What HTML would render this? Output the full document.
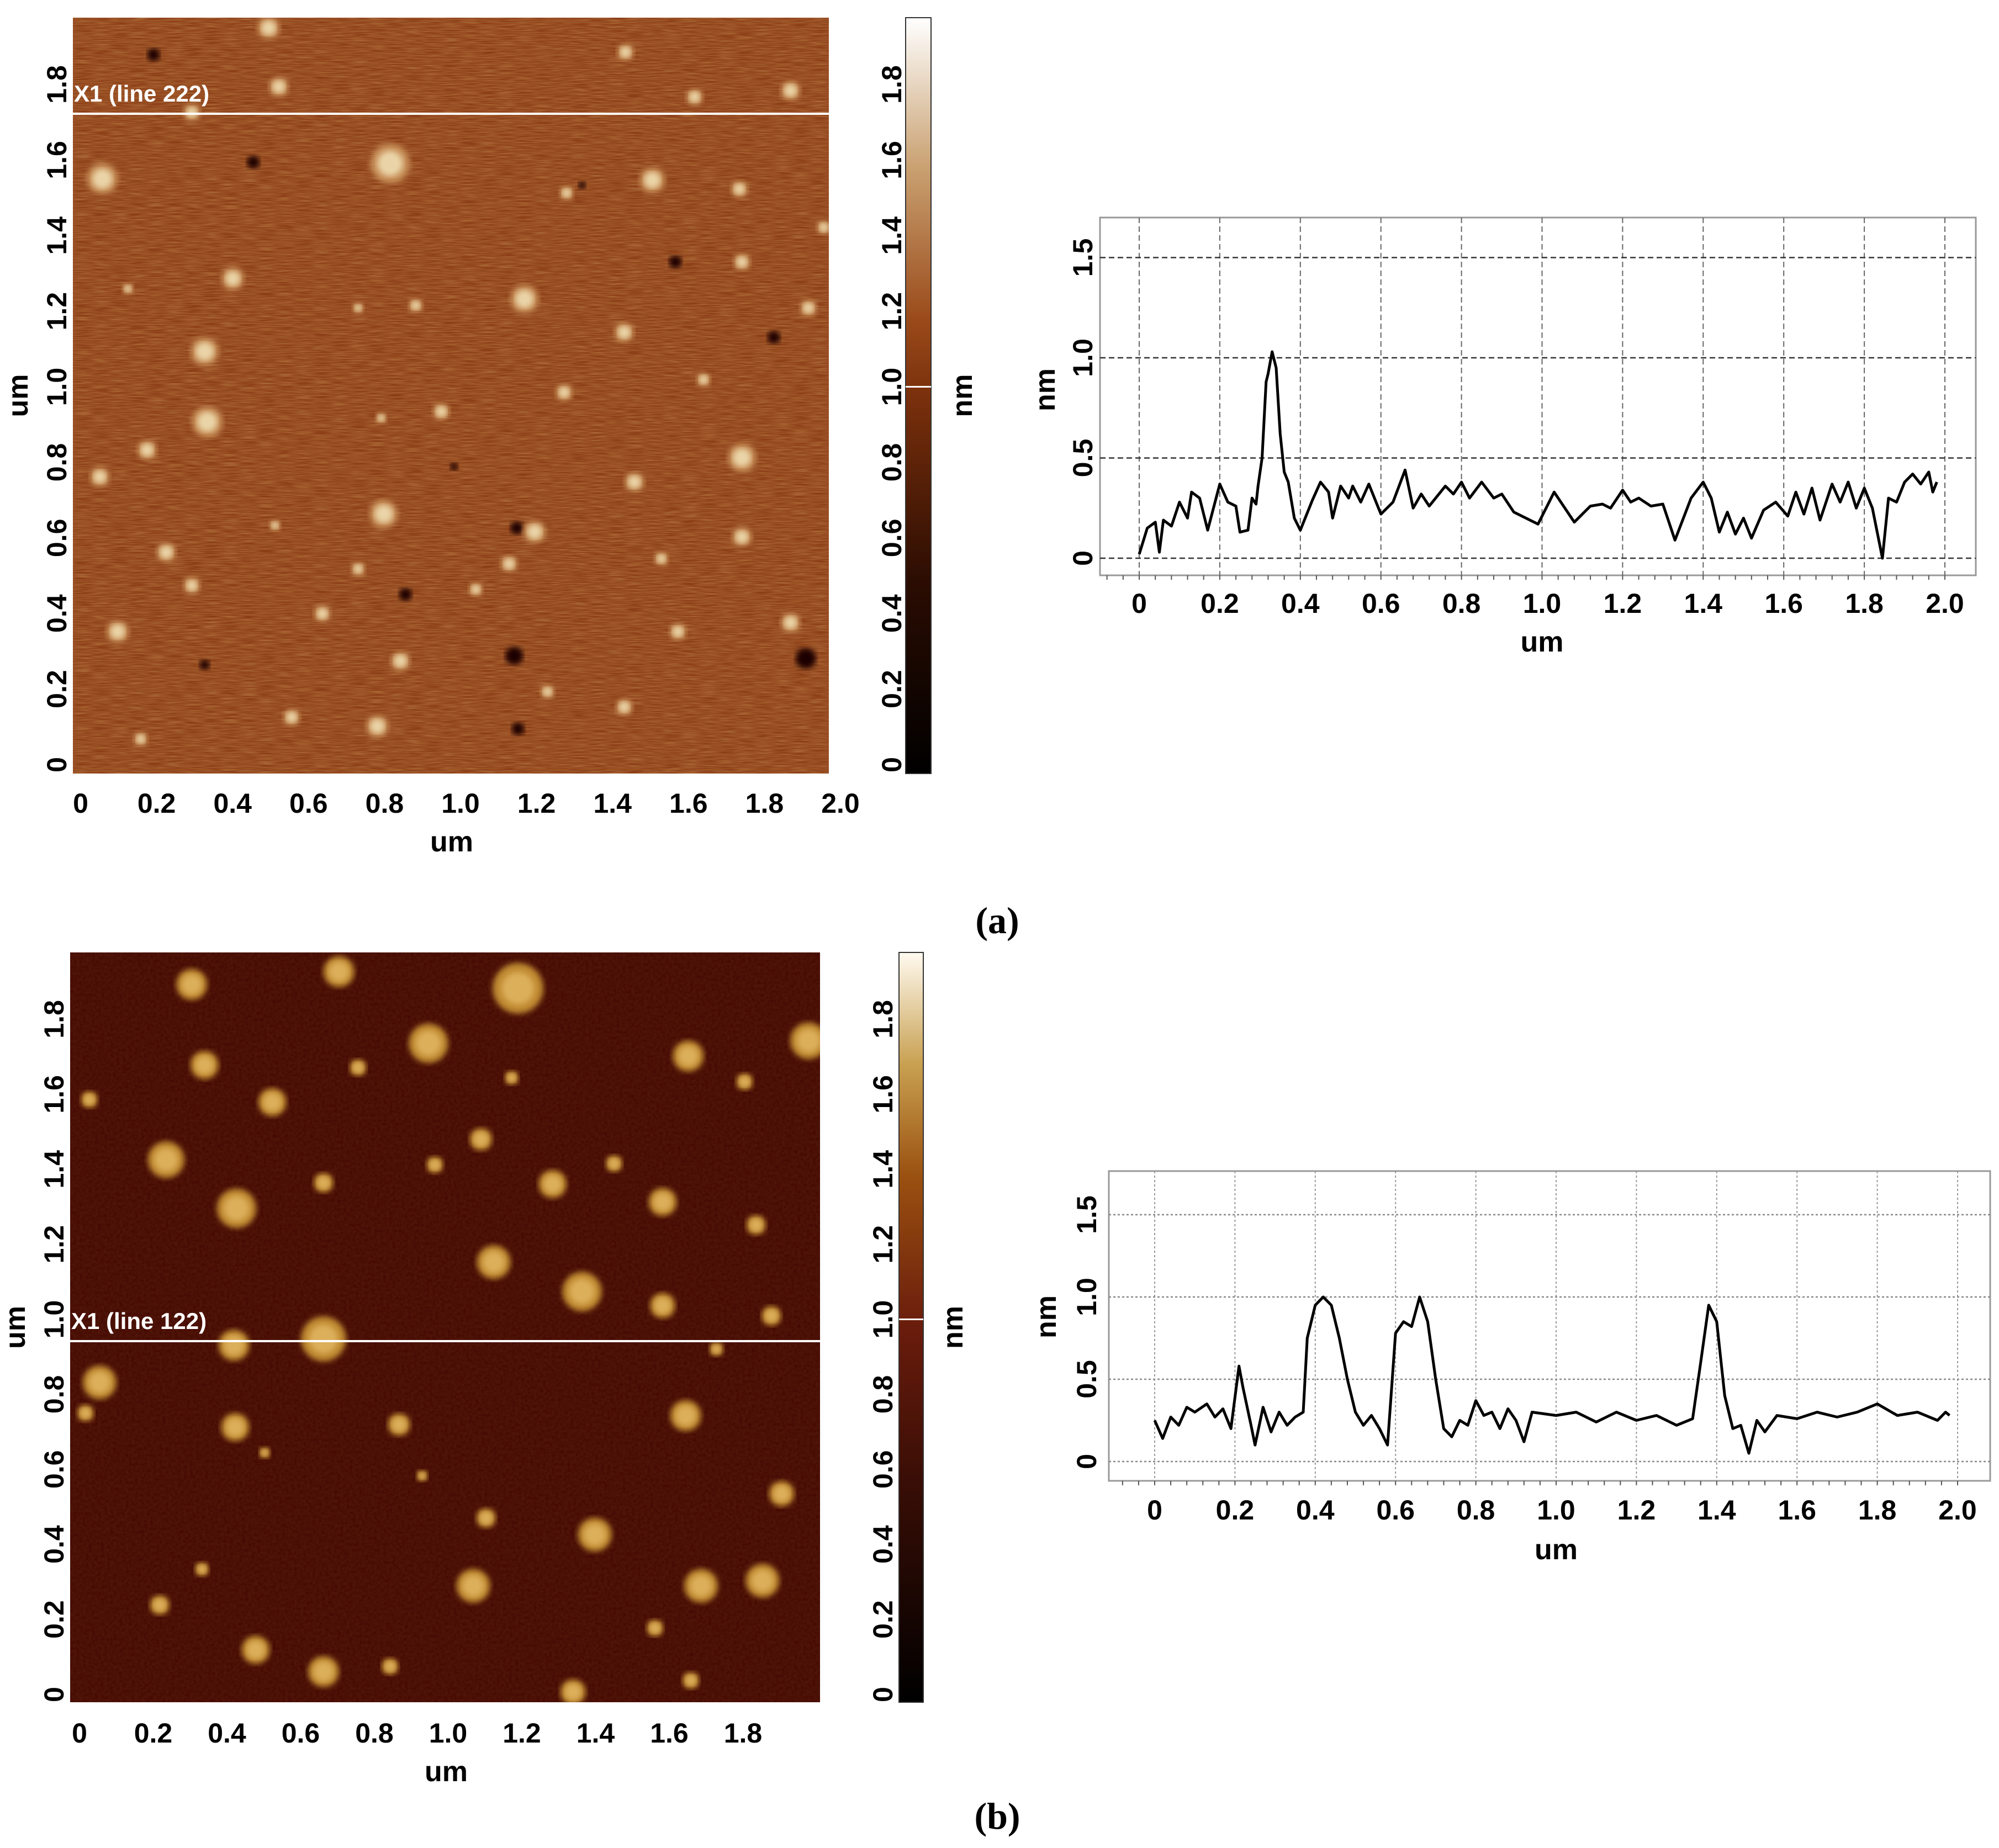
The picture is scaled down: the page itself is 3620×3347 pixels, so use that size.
<!DOCTYPE html>
<html><head><meta charset="utf-8"><style>
html,body{margin:0;padding:0;background:#fff;}
svg{display:block;}
text{font-family:"Liberation Sans",Arial,sans-serif;font-weight:bold;}
</style></head><body>
<svg id="root" xmlns="http://www.w3.org/2000/svg" width="3620" height="3347" viewBox="0 0 3620 3347">
<defs>
<filter id="grainA" x="0" y="0" width="1" height="1">
<feTurbulence type="fractalNoise" baseFrequency="0.03 0.55" numOctaves="2" seed="3" result="n"/>
<feColorMatrix in="n" type="matrix" values="0 0 0 0 0.6  0 0 0 0 0.3  0 0 0 0 0.1  0 0 0 0.9 -0.25"/>
</filter>
<filter id="grainB" x="0" y="0" width="1" height="1">
<feTurbulence type="fractalNoise" baseFrequency="0.18" numOctaves="2" seed="7" result="n"/>
<feColorMatrix in="n" type="matrix" values="0 0 0 0 0.05  0 0 0 0 0.0  0 0 0 0 0.0  0 0 0 1.1 -0.35"/>
</filter>
<filter id="blur6"><feGaussianBlur stdDeviation="5"/></filter>
<linearGradient id="cbA" x1="0" y1="1" x2="0" y2="0">
<stop offset="0" stop-color="#000"/><stop offset="0.25" stop-color="#2a0c02"/><stop offset="0.5" stop-color="#7a300c"/>
<stop offset="0.6" stop-color="#9a4a1a"/><stop offset="0.8" stop-color="#c9a070"/><stop offset="1" stop-color="#fff"/>
</linearGradient>
<linearGradient id="cbB" x1="0" y1="1" x2="0" y2="0">
<stop offset="0" stop-color="#000"/><stop offset="0.3" stop-color="#3a0e06"/><stop offset="0.5" stop-color="#6a1c0c"/>
<stop offset="0.7" stop-color="#9a5010"/><stop offset="0.85" stop-color="#c8a050"/><stop offset="1" stop-color="#fffaf0"/>
</linearGradient>
<clipPath id="clipA"><rect x="132" y="32" width="1369" height="1369"/></clipPath>
<clipPath id="clipB"><rect x="127" y="1725" width="1358" height="1358"/></clipPath>
</defs>
<g id="layer"></g>
<text x="1806" y="1690" font-size="68" text-anchor="middle" style="font-family:'Liberation Serif',serif">(a)</text>
<text x="1806" y="3312" font-size="68" text-anchor="middle" style="font-family:'Liberation Serif',serif">(b)</text>
</svg>
<script>
// ---------- profile data ----------
const profileAx = [0,0.02,0.04,0.05,0.06,0.08,0.1,0.12,0.13,0.15,0.17,0.2,0.22,0.24,0.25,0.27,0.28,0.29,0.295,0.305,0.315,0.32,0.33,0.34,0.35,0.36,0.37,0.385,0.4,0.43,0.45,0.47,0.48,0.5,0.52,0.53,0.55,0.57,0.59,0.6,0.63,0.66,0.68,0.7,0.72,0.76,0.78,0.8,0.82,0.85,0.88,0.9,0.93,0.96,0.99,1.03,1.05,1.08,1.12,1.15,1.17,1.2,1.22,1.24,1.27,1.3,1.33,1.37,1.4,1.42,1.44,1.46,1.48,1.5,1.52,1.55,1.58,1.61,1.63,1.65,1.67,1.69,1.72,1.74,1.76,1.78,1.8,1.82,1.845,1.86,1.88,1.9,1.92,1.94,1.96,1.97,1.98];
const profileAy = [0.02,0.15,0.18,0.03,0.19,0.16,0.28,0.2,0.33,0.3,0.14,0.37,0.28,0.26,0.13,0.14,0.3,0.27,0.36,0.5,0.88,0.92,1.03,0.95,0.62,0.43,0.38,0.2,0.14,0.29,0.38,0.33,0.2,0.36,0.3,0.36,0.28,0.37,0.27,0.22,0.28,0.44,0.25,0.32,0.26,0.36,0.32,0.38,0.3,0.38,0.3,0.32,0.23,0.2,0.17,0.33,0.27,0.18,0.26,0.27,0.25,0.34,0.28,0.3,0.26,0.27,0.09,0.3,0.38,0.3,0.13,0.23,0.12,0.2,0.1,0.24,0.28,0.21,0.33,0.22,0.35,0.19,0.37,0.28,0.38,0.25,0.35,0.25,0.0,0.3,0.28,0.38,0.42,0.37,0.43,0.33,0.38];
const profileBx = [0,0.02,0.04,0.06,0.08,0.1,0.13,0.15,0.17,0.19,0.21,0.22,0.24,0.25,0.27,0.29,0.31,0.33,0.35,0.37,0.38,0.4,0.42,0.44,0.46,0.48,0.5,0.52,0.54,0.56,0.58,0.6,0.62,0.64,0.66,0.68,0.7,0.72,0.74,0.76,0.78,0.8,0.82,0.84,0.86,0.88,0.9,0.92,0.94,1.0,1.05,1.1,1.15,1.2,1.25,1.3,1.34,1.36,1.38,1.4,1.42,1.44,1.46,1.48,1.5,1.52,1.55,1.6,1.65,1.7,1.75,1.8,1.85,1.9,1.95,1.97,1.98];
const profileBy = [0.25,0.14,0.27,0.22,0.33,0.3,0.35,0.27,0.32,0.2,0.58,0.45,0.22,0.1,0.33,0.18,0.3,0.22,0.27,0.3,0.75,0.95,1.0,0.95,0.75,0.5,0.3,0.22,0.28,0.2,0.1,0.78,0.85,0.82,1.0,0.85,0.5,0.2,0.15,0.25,0.22,0.37,0.28,0.3,0.2,0.32,0.25,0.12,0.3,0.28,0.3,0.24,0.3,0.25,0.28,0.22,0.26,0.6,0.95,0.85,0.4,0.2,0.22,0.05,0.25,0.18,0.28,0.26,0.3,0.27,0.3,0.35,0.28,0.3,0.25,0.3,0.28];
const xTicksProfile = [0,0.2,0.4,0.6,0.8,1.0,1.2,1.4,1.6,1.8,2.0];
const yTicksProfile = [0,0.5,1.0,1.5];
const imgTicksA = [0,0.2,0.4,0.6,0.8,1.0,1.2,1.4,1.6,1.8,2.0];
const imgYTicks = [0,0.2,0.4,0.6,0.8,1.0,1.2,1.4,1.6,1.8];
const imgTicksB = [0,0.2,0.4,0.6,0.8,1.0,1.2,1.4,1.6,1.8];
// particle positions (display coords of reference view) [x,y,r]
const blobsA = [[210,22,8],[218,68,7],[305,128,14],[80,140,11],[489,41,6],[543,76,6],[618,71,7],[150,88,6],[182,218,8],[410,234,10],[160,275,10],[162,330,11],[115,352,7],[78,373,7],[300,402,10],[418,416,8],[510,141,9],[578,148,6],[443,151,5],[580,205,6],[488,260,7],[632,241,6],[441,307,6],[345,322,6],[298,327,4],[550,297,5],[580,358,10],[496,377,7],[580,420,7],[130,432,7],[150,458,6],[252,480,6],[92,494,8],[313,517,7],[530,494,6],[618,487,7],[488,553,6],[428,541,5],[295,568,8],[228,561,6],[110,578,5],[372,461,5],[280,445,5],[398,441,6],[517,437,5],[644,178,5],[100,226,4],[280,241,4],[325,239,5],[215,411,4]];
const pitsA = [[198,127,5],[120,43,5],[528,205,5],[605,264,5],[402,513,7],[405,570,5],[317,465,5],[630,515,8],[160,520,4],[404,413,5],[455,145,3],[355,365,3]];
const blobsB = [[150,770,11],[265,760,11],[405,773,18],[335,816,14],[160,833,10],[280,835,6],[538,826,11],[632,814,13],[213,862,10],[400,843,5],[582,846,6],[130,907,13],[376,891,8],[185,945,14],[253,925,7],[340,911,6],[432,926,10],[480,910,6],[518,940,10],[591,958,7],[386,987,12],[455,1010,14],[518,1021,9],[603,1029,7],[183,1052,11],[253,1047,16],[78,1081,12],[184,1116,10],[312,1114,8],[536,1107,11],[380,1187,7],[465,1200,12],[611,1168,9],[67,1105,6],[70,860,6],[370,1240,12],[548,1240,12],[596,1236,12],[125,1255,7],[200,1290,10],[253,1307,11],[305,1303,6],[448,1323,9],[512,1273,6],[158,1227,5],[540,1314,6],[560,1055,5],[330,1154,4],[207,1136,4]];

const NS = "http://www.w3.org/2000/svg";
const layer = document.getElementById('layer');
function el(tag, attrs, parent, txt){
  const e = document.createElementNS(NS, tag);
  for (const k in attrs) e.setAttribute(k, attrs[k]);
  if (txt !== undefined) e.textContent = txt;
  (parent || layer).appendChild(e);
  return e;
}
const S = 3620/1563;

function afmImage(cfg){
  const g = el('g', {});
  
  
  const ig = el('g', {'clip-path': 'url(#'+cfg.clip+')'}, g);
  el('rect', {x:cfg.x, y:cfg.y, width:cfg.w, height:cfg.h, fill:cfg.bg}, ig);
  el('rect', {x:cfg.x, y:cfg.y, width:cfg.w, height:cfg.h, filter:'url(#'+cfg.grain+')'}, ig);
  const d0x = cfg.dx0, d0y = cfg.dy0, dw = cfg.dw;
  cfg.pits.forEach(p => {
    const c = el('circle', {cx: cfg.x + (p[0]-d0x)/dw*cfg.w, cy: cfg.y + (p[1]-d0y)/dw*cfg.h, r: p[2]*S, fill:'#1a0602', filter:'url(#blur6)'}, ig);
    
    
  });
  cfg.blobs.forEach(p => {
    const cx = cfg.x + (p[0]-d0x)/dw*cfg.w, cy = cfg.y + (p[1]-d0y)/dw*cfg.h;
    const c = el('circle', {cx:cx, cy:cy, r: p[2]*S*1.1, fill:cfg.blobEdge, filter:'url(#blur6)'}, ig);
    
    
    el('circle', {cx:cx, cy:cy, r: p[2]*S*0.7, fill:cfg.blobCore, filter:'url(#blur6)', opacity:0.9}, ig);
  });
  const ln = el('line', {x1:cfg.x, x2:cfg.x+cfg.w, y1:cfg.lineY, y2:cfg.lineY, stroke:'#fff', 'stroke-width':4}, g);
  
  
  const lt = el('text', {x:cfg.x+2, y:cfg.lineY-22, 'font-size':42, fill:'#fff'}, g, cfg.lineLabel);
  
  
  cfg.xt.forEach(v => {
    const t = el('text', {x: cfg.tx0 + v/2*(cfg.tx1-cfg.tx0), y: cfg.tyX, 'font-size':50, 'text-anchor':'middle'}, g, v===0?'0':v.toFixed(1));
    
    
  });
  const xl = el('text', {x: cfg.umX, y: cfg.umY, 'font-size':52, 'text-anchor':'middle'}, g, 'um');
  
  
  cfg.yt.forEach(v => {
    const yy = cfg.y0px + v/1.8*(cfg.y18px - cfg.y0px);
    const t = el('text', {x:0, y:0, 'font-size':50, 'text-anchor':'middle', transform:'translate('+cfg.ytx+','+yy+') rotate(-90)'}, g, v===0?'0':v.toFixed(1));
    
    
    const ct = el('text', {x:0, y:0, 'font-size':50, 'text-anchor':'middle', transform:'translate('+cfg.cbtx+','+yy+') rotate(-90)'}, g, v===0?'0':v.toFixed(1));
    
    
  });
  const yl = el('text', {x:0, y:0, 'font-size':52, 'text-anchor':'middle', transform:'translate('+cfg.yumX+','+(cfg.y+cfg.h/2)+') rotate(-90)'}, g, 'um');
  
  
  const cb = el('rect', {x:cfg.cbx, y:cfg.y, width:cfg.cbw, height:cfg.h, fill:'url(#'+cfg.cbGrad+')', stroke:'#333', 'stroke-width':2}, g);
  
  
  const my = cfg.y0px + 1.0/1.8*(cfg.y18px - cfg.y0px);
  el('line', {x1:cfg.cbx, x2:cfg.cbx+cfg.cbw, y1:my, y2:my, stroke:'#fff', 'stroke-width':3}, g);
  const nl = el('text', {x:0, y:0, 'font-size':52, 'text-anchor':'middle', transform:'translate('+cfg.nmX+','+(cfg.y+cfg.h/2)+') rotate(-90)'}, g, 'nm');
  
  
}

afmImage({name:'afm-image-a', clip:'clipA', x:132, y:32, w:1369, h:1369, bg:'#8c3e16', grain:'grainA',
  blobs:blobsA, pits:pitsA, blobEdge:'#c8905a', blobCore:'#eedcb0', dx0:57, dy0:14, dw:591,
  lineY:206, lineLabel:'X1 (line 222)', xt:imgTicksA, tx0:146, tx1:1522, tyX:1472, umX:818, umY:1542,
  yt:imgYTicks, y0px:1385, y18px:153, ytx:120, cbtx:1632, yumX:50, cbx:1640, cbw:46, cbGrad:'cbA', nmX:1760});

afmImage({name:'afm-image-b', clip:'clipB', x:127, y:1725, w:1358, h:1358, bg:'#4e1407', grain:'grainB',
  blobs:blobsB, pits:[], blobEdge:'#c08a30', blobCore:'#e0b460', dx0:55, dy0:745, dw:586,
  lineY:2429, lineLabel:'X1 (line 122)', xt:imgTicksB, tx0:144, tx1:1479, tyX:3156, umX:808, umY:3226,
  yt:imgYTicks, y0px:3069, y18px:1846, ytx:115, cbtx:1616, yumX:45, cbx:1628, cbw:44, cbGrad:'cbB', nmX:1743});

function profile(cfg){
  const g = el('g', {});
  
  
  const X = v => cfg.x0 + v/2*(cfg.x2 - cfg.x0);
  const Y = v => cfg.y0 - v*cfg.ppn;
  const frame = el('rect', {x:cfg.bx, y:cfg.by, width:cfg.bw, height:cfg.bh, fill:'#fff', stroke:'#999', 'stroke-width':3}, g);
  
  
  xTicksProfile.forEach(v => {
    const gl = el('line', {x1:X(v), x2:X(v), y1:cfg.by, y2:cfg.by+cfg.bh, stroke:cfg.vgrid, 'stroke-width':2, 'stroke-dasharray':cfg.dash}, g);
    
    
    const t = el('text', {x:X(v), y:cfg.tyX, 'font-size':50, 'text-anchor':'middle'}, g, v===0?'0':v.toFixed(1));
    
    
  });
  for (let i = -5; i <= 50; i++) {
    const xv = X(i*0.04);
    if (xv > cfg.bx && xv < cfg.bx+cfg.bw) el('line', {x1:xv, x2:xv, y1:cfg.by+cfg.bh, y2:cfg.by+cfg.bh+8, stroke:'#555', 'stroke-width':2}, g);
  }
  yTicksProfile.forEach(v => {
    const gl = el('line', {x1:cfg.bx, x2:cfg.bx+cfg.bw, y1:Y(v), y2:Y(v), stroke:cfg.hgrid, 'stroke-width':2.5, 'stroke-dasharray':cfg.dash}, g);
    
    
    const t = el('text', {x:0, y:0, 'font-size':50, 'text-anchor':'middle', transform:'translate('+cfg.ytx+','+Y(v)+') rotate(-90)'}, g, v===0?'0':v.toFixed(1));
    
    
  });
  let d = '';
  cfg.xs.forEach((v, i) => { d += (i ? 'L' : 'M') + X(v).toFixed(1) + ',' + Y(cfg.ys[i]).toFixed(1); });
  const p = el('path', {d:d, fill:'none', stroke:'#000', 'stroke-width':5, 'stroke-linejoin':'round'}, g);
  
  
  const xl = el('text', {x:(cfg.x0+cfg.x2)/2, y:cfg.umY, 'font-size':52, 'text-anchor':'middle'}, g, 'um');
  
  
  const yl = el('text', {x:0, y:0, 'font-size':52, 'text-anchor':'middle', transform:'translate('+cfg.nmX+','+cfg.nmY+') rotate(-90)'}, g, 'nm');
  
  
}

profile({name:'profile-chart-a', xs:profileAx, ys:profileAy, bx:1992, by:394, bw:1586, bh:648,
  x0:2063, x2:3522, y0:1011, ppn:363, vgrid:'#666', hgrid:'#333', dash:'10,6',
  tyX:1110, ytx:1978, umY:1180, nmX:1910, nmY:706});
profile({name:'profile-chart-b', xs:profileBx, ys:profileBy, bx:2008, by:2121, bw:1596, bh:561,
  x0:2091, x2:3545, y0:2647, ppn:298, vgrid:'#999', hgrid:'#888', dash:'4,4',
  tyX:2752, ytx:1985, umY:2824, nmX:1912, nmY:2385});
</script>
</body></html>
